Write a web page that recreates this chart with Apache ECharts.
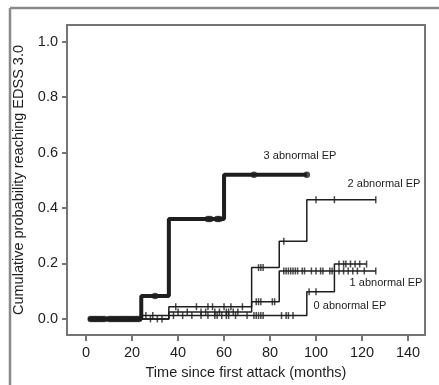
<!DOCTYPE html>
<html>
<head>
<meta charset="utf-8">
<script src="https://cdn.jsdelivr.net/npm/echarts@6/dist/echarts.min.js"></script>
<style>
  html, body { margin: 0; padding: 0; background: #fff; }
  #chart { width: 439px; height: 385px; }
</style>
</head>
<body>
<div id="chart"></div>
<script>
const xTicks = [0, 20, 40, 60, 80, 100, 120, 140];
const yTicks = [0, 0.2, 0.4, 0.6, 0.8, 1.0];

// step curves: [time, cumulative probability], last point = end of follow-up
const steps3 = [[1, 0], [24, 0.083], [36, 0.36], [60, 0.52], [96, 0.52]];
const steps2 = [[1, 0], [36, 0.044], [72, 0.185], [84, 0.28], [96, 0.43], [126, 0.43]];
const steps1 = [[1, 0], [36, 0.025], [72, 0.062], [84, 0.173], [126, 0.173]];
const steps0 = [[1, 0], [24, 0.012], [96, 0.098], [108, 0.198], [122, 0.198]];

// censoring times
const censor3 = [2, 3, 4, 5, 6, 7, 8, 10, 11, 12, 13, 14, 15, 16, 17, 18, 19, 20, 21, 22, 23, 30, 53, 54, 57, 58, 73, 96];
const censor2 = [28, 31, 33, 39, 48, 53, 55, 60, 63, 68, 75, 76, 77, 86, 100, 108, 126];
const censor1 = [40, 44, 50, 52, 56, 58, 61, 62, 64, 66, 74, 75, 76, 81, 82,
  86, 87, 88, 89, 90, 91, 92, 94, 95, 98, 100, 102, 103, 106, 107, 110, 112, 114, 116, 118, 121, 126];
const censor0 = [26, 29, 38, 42, 46, 50, 53, 56, 57, 59, 61, 62, 65, 70, 73, 74, 75, 76, 77, 85, 87, 88, 90,
  97, 100, 110, 112, 113, 115, 117, 119, 122];

const labels = ['3 abnormal EP', '2 abnormal EP', '1 abnormal EP', '0 abnormal EP'];

function levelAt(steps, t) {
  let v = steps[0][1];
  for (const [x, y] of steps) {
    if (x <= t) v = y;
  }
  return v;
}

const ink = '#1e1e1e';
const axisGray = '#757575';
const font = 'Liberation Sans, Arial, sans-serif';

function curve(steps, width) {
  return {
    type: 'line',
    step: 'end',
    data: steps,
    showSymbol: false,
    silent: true,
    lineStyle: { color: ink, width: width },
    z: 3,
  };
}

function marks(steps, times, symbol, size) {
  return {
    type: 'scatter',
    data: times.map((t) => [t, levelAt(steps, t)]),
    symbol: symbol,
    symbolSize: size,
    itemStyle: { color: ink },
    silent: true,
    z: 4,
  };
}

const chart = echarts.init(document.getElementById('chart'));
chart.setOption({
  animation: false,
  backgroundColor: '#fff',
  grid: {
    left: 67, right: 14, top: 25, bottom: 50,
    show: true, borderColor: axisGray, borderWidth: 2, backgroundColor: 'transparent',
  },
  xAxis: {
    type: 'value',
    min: -8.3,
    max: 147.4,
    name: 'Time since first attack (months)',
    nameLocation: 'middle',
    nameGap: 30,
    nameTextStyle: { color: ink, fontSize: 14.5, fontFamily: font },
    axisLine: { show: true, onZero: false, lineStyle: { color: axisGray, width: 2 } },
    axisTick: { show: true, customValues: xTicks, length: 6, lineStyle: { color: axisGray, width: 2 } },
    axisLabel: { customValues: xTicks, color: ink, fontSize: 14.5, fontFamily: font, margin: 10 },
    splitLine: { show: false },
  },
  yAxis: {
    type: 'value',
    min: -0.058,
    max: 1.06,
    name: 'Cumulative probability reaching EDSS 3.0',
    nameLocation: 'middle',
    nameGap: 37,
    nameTextStyle: { color: ink, fontSize: 14.5, fontFamily: font },
    axisLine: { show: true, onZero: false, lineStyle: { color: axisGray, width: 2 } },
    axisTick: { show: true, customValues: yTicks, length: 5, lineStyle: { color: axisGray, width: 2 } },
    axisLabel: {
      customValues: yTicks, color: ink, fontSize: 14.5, fontFamily: font, margin: 9,
      formatter: (v) => v.toFixed(1),
    },
    splitLine: { show: false },
  },
  graphic: [
    { type: 'line', shape: { x1: 10, y1: 8, x2: 10, y2: 385 }, style: { stroke: '#8a8a8a', lineWidth: 2.5 } },
    { type: 'line', shape: { x1: 10, y1: 8, x2: 439, y2: 8 }, style: { stroke: '#8a8a8a', lineWidth: 2.5 } },
    { type: 'text', x: 300, y: 156, style: { text: labels[0], fill: ink, font: '11px ' + font, textAlign: 'center', textVerticalAlign: 'middle' } },
    { type: 'text', x: 384, y: 184, style: { text: labels[1], fill: ink, font: '11px ' + font, textAlign: 'center', textVerticalAlign: 'middle' } },
    { type: 'text', x: 386, y: 283, style: { text: labels[2], fill: ink, font: '11px ' + font, textAlign: 'center', textVerticalAlign: 'middle' } },
    { type: 'text', x: 350, y: 306, style: { text: labels[3], fill: ink, font: '11px ' + font, textAlign: 'center', textVerticalAlign: 'middle' } },
  ],
  series: [
    curve(steps0, 1.5),
    curve(steps1, 1.5),
    curve(steps2, 1.5),
    curve(steps3, 4),
    marks(steps0, censor0, 'rect', [1.5, 7]),
    marks(steps1, censor1, 'rect', [1.5, 7]),
    marks(steps2, censor2, 'rect', [1.5, 7]),
    marks(steps3, censor3, 'circle', 6.5),
  ],
});
</script>
</body>
</html>
